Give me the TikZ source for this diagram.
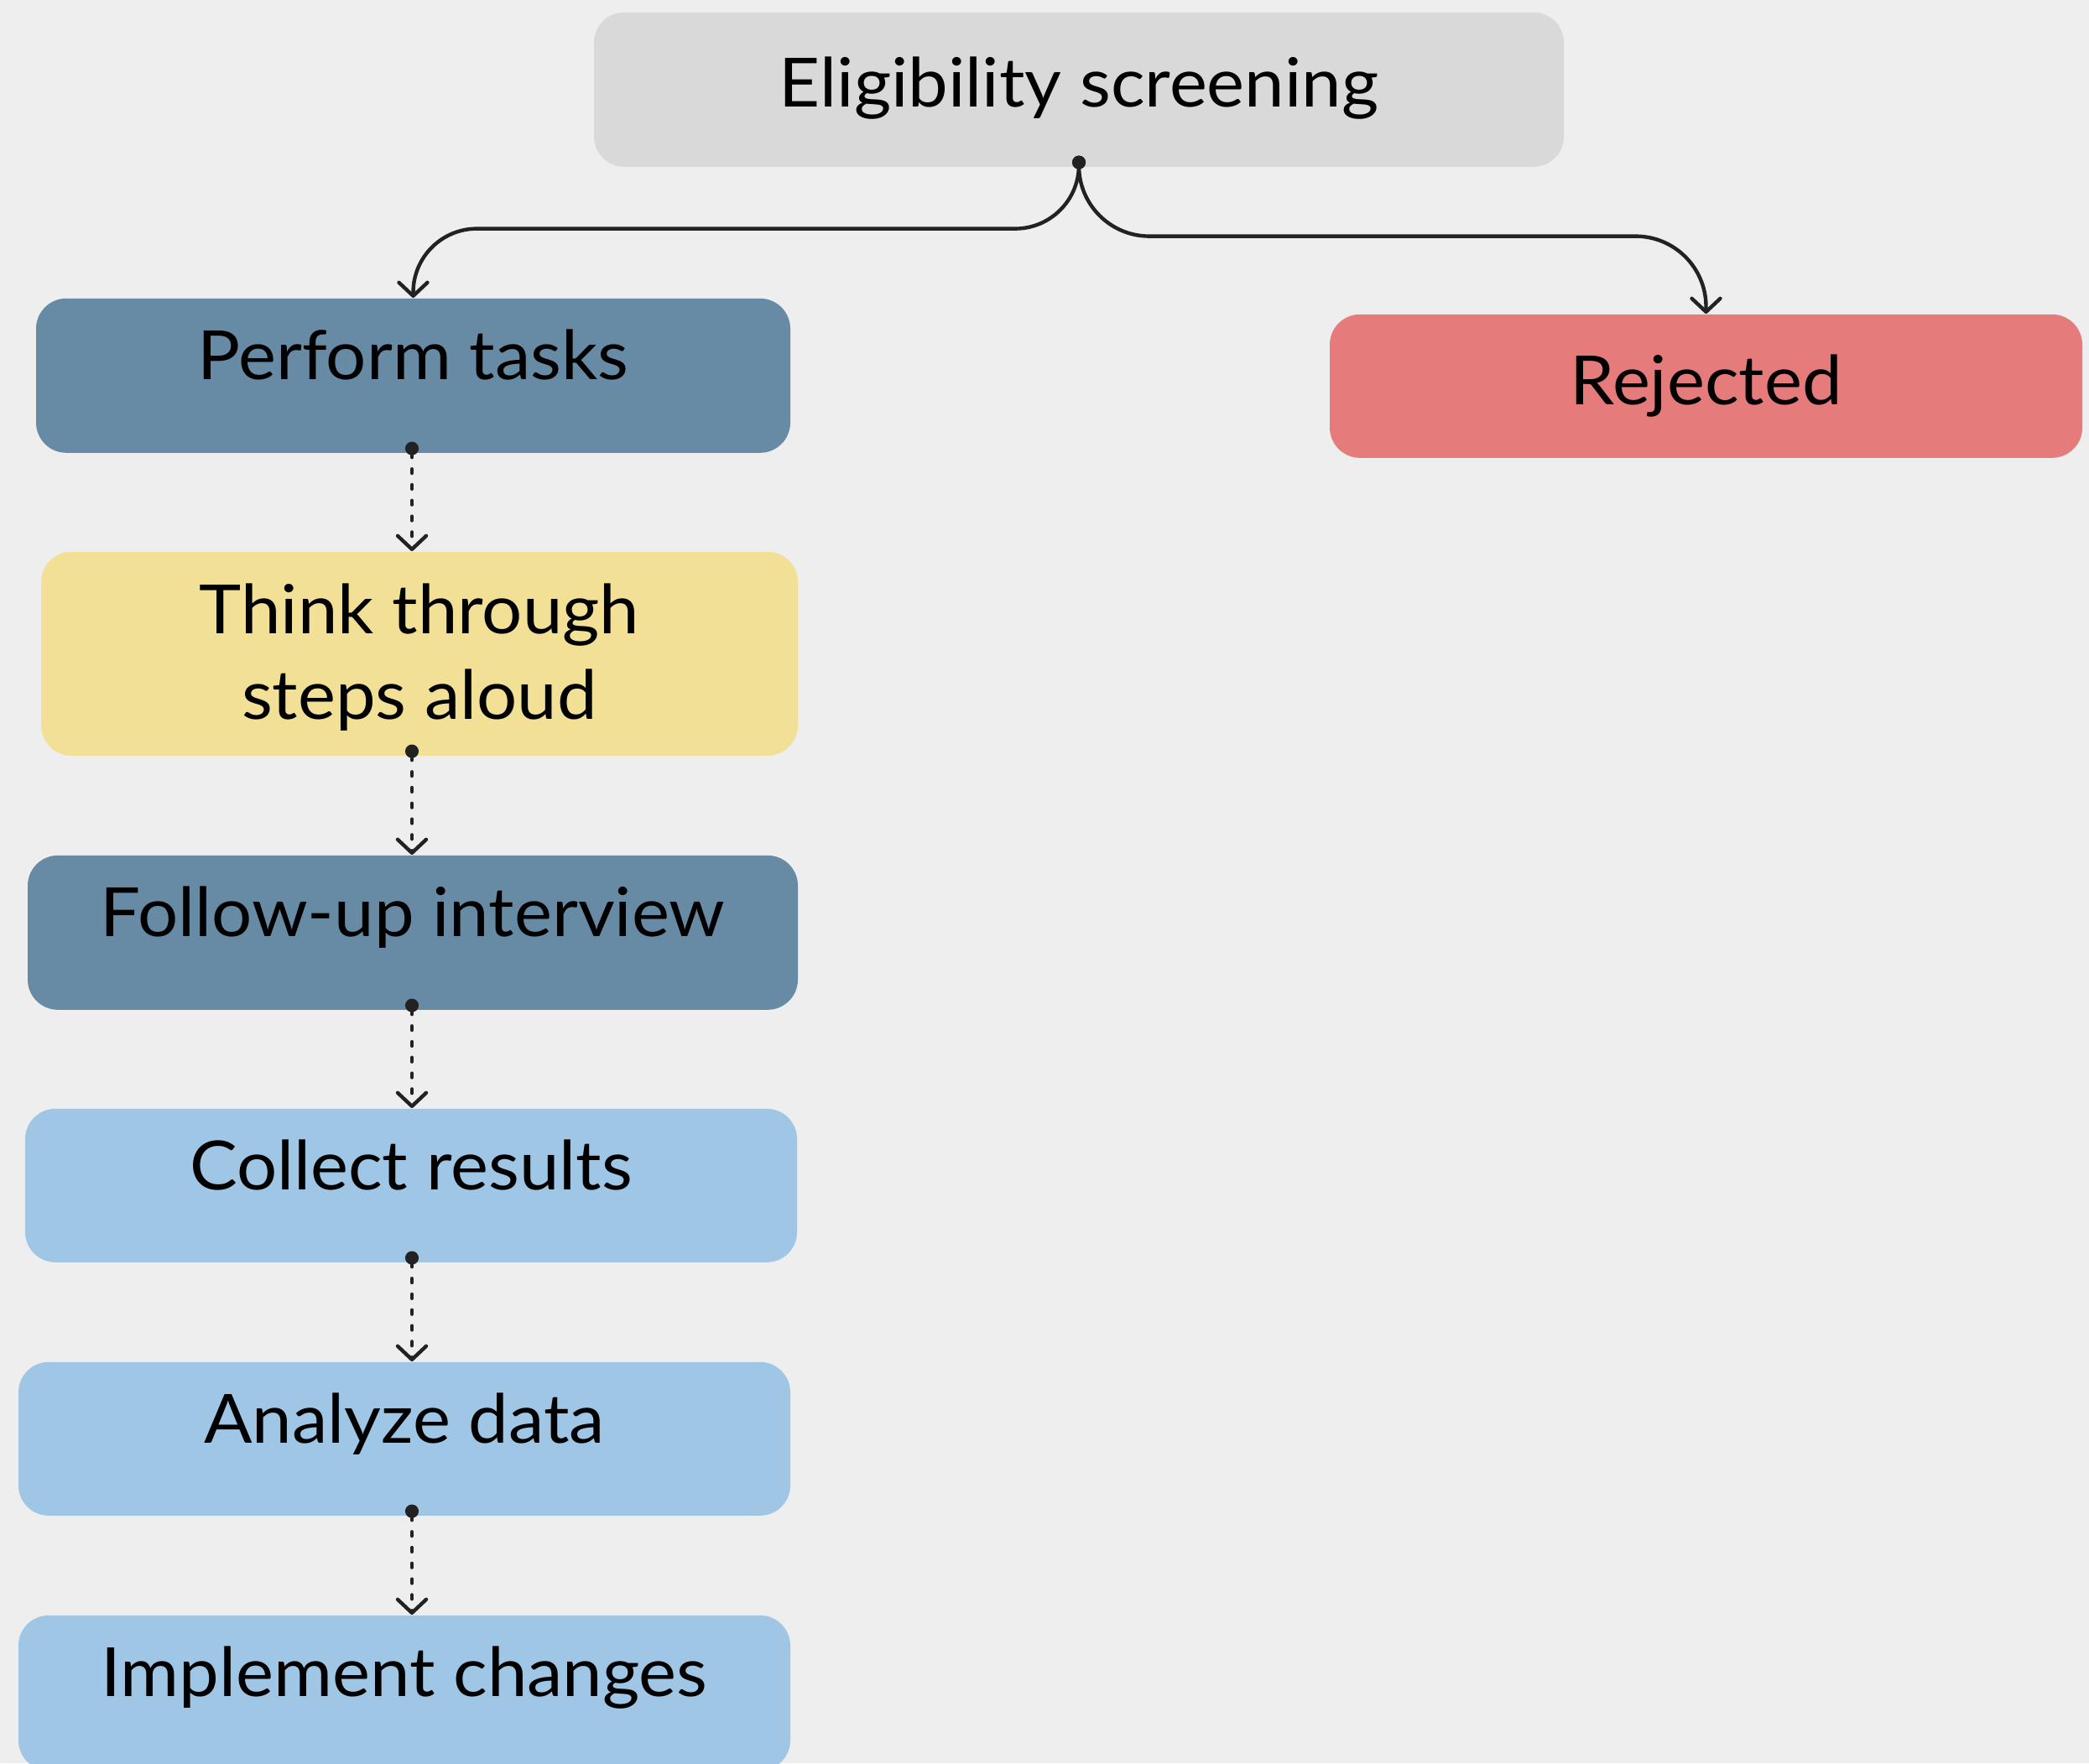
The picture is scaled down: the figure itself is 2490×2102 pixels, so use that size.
\documentclass[tikz,border=0pt]{standalone}
\usepackage{fontspec}
\setmainfont{Lato}[FakeStretch=1.05]
\usetikzlibrary{arrows.meta}
\definecolor{canvas}{HTML}{EEEEEE}
\definecolor{screen}{HTML}{D9D9D9}
\definecolor{task}{HTML}{688BA5}
\definecolor{reject}{HTML}{E57B7B}
\definecolor{aloud}{HTML}{F1E096}
\definecolor{result}{HTML}{A0C6E6}
\definecolor{ink}{HTML}{222222}
\begin{document}
\begin{tikzpicture}[x=0.25pt,y=0.25pt,yscale=-1,
  stepbox/.style={anchor=north, rounded corners=9pt, inner sep=0pt, text=black,
    font=\fontsize{20.25}{25.5}\selectfont, text height=24.25pt, text depth=21.75pt},
  flow/.style={draw=ink, line width=1.1pt,
    {Circle[length=4pt]}-{Straight Barb[length=4pt,width=8.5pt,line cap=round,line join=round]}},
  dotflow/.style={flow, shorten <=-3.5pt, line cap=round, dash pattern=on 1.2pt off 3.5pt}]
\clip (0,0) rectangle (2490,2102);
\fill[canvas] (0,0) rectangle (2490,2102);
\coordinate (spine) at (491,0);

\node[stepbox, fill=screen, minimum width=289pt, text height=28.25pt, text depth=17.75pt] (elig) at (1286,14) {Eligibility screening};
\node[stepbox, fill=task, minimum width=224.75pt] (perform) at (492.5,355) {Perform tasks};
\node[stepbox, fill=reject, minimum width=224.25pt, text height=27pt, text depth=15.75pt] (rejected) at (2033.5,374) {Rejected};
\node[stepbox, fill=aloud, minimum width=225.5pt, text height=24.5pt, text depth=36.25pt] (think) at (500,657) {\begin{tabular}[t]{@{}c@{}}Think through\\steps aloud\end{tabular}};
\node[stepbox, fill=task, minimum width=229.5pt] (follow) at (492,1019) {Follow-up interview};
\node[stepbox, fill=result, minimum width=230pt, text depth=21.5pt] (collect) at (490,1321) {Collect results};
\node[stepbox, fill=result, minimum width=230pt, text depth=21.5pt] (analyze) at (482,1623) {Analyze data};
\node[stepbox, fill=result, minimum width=230pt, text depth=22pt] (implement) at (482,1925) {Implement changes};

\coordinate (fork) at ([yshift=-3.5pt]elig.south);
\draw[flow, rounded corners=19pt] (fork) -- ++(0,87) -| (perform.north);
\draw[flow, rounded corners=21pt] (fork) -- ++(0,96) -| (rejected.north);
\draw[dotflow] (perform.south -| spine) -- (think.north -| spine);
\draw[dotflow] (think.south -| spine) -- (follow.north -| spine);
\draw[dotflow] (follow.south -| spine) -- (collect.north -| spine);
\draw[dotflow] (collect.south -| spine) -- (analyze.north -| spine);
\draw[dotflow] (analyze.south -| spine) -- (implement.north -| spine);
\end{tikzpicture}
\end{document}
